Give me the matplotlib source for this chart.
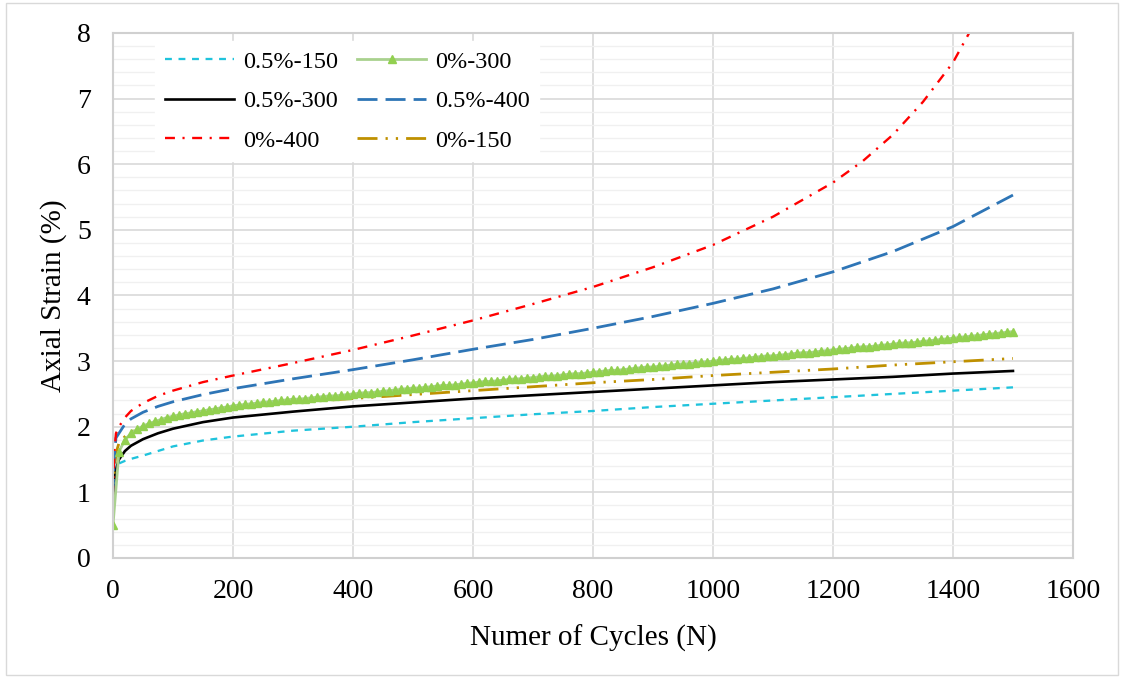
import matplotlib
matplotlib.use("Agg")
import matplotlib.pyplot as plt
from matplotlib.patches import Rectangle
from matplotlib.ticker import MultipleLocator

plt.rcParams['font.family'] = ['Liberation Serif', 'DejaVu Serif']

# cycles at which the line series were read
n_lines = [0, 2, 5, 10, 20, 30, 50, 75, 100, 150, 200, 300, 400, 500, 600,
           700, 800, 900, 1000, 1100, 1200, 1300, 1400, 1500]

s_05_150 = [1.05, 1.30, 1.37, 1.44, 1.48, 1.51, 1.56, 1.63, 1.70, 1.79, 1.85, 1.94, 2.00, 2.07,
            2.13, 2.19, 2.24, 2.30, 2.35, 2.40, 2.45, 2.50, 2.55, 2.60]
s_05_300 = [0.85, 1.15, 1.35, 1.50, 1.63, 1.71, 1.81, 1.90, 1.97, 2.07, 2.14, 2.23, 2.31, 2.37,
            2.43, 2.48, 2.53, 2.58, 2.63, 2.68, 2.72, 2.76, 2.81, 2.85]
s_05_400 = [0.90, 1.50, 1.83, 1.90, 2.04, 2.12, 2.22, 2.31, 2.38, 2.49, 2.58, 2.73, 2.87, 3.02,
            3.18, 3.33, 3.50, 3.68, 3.88, 4.10, 4.36, 4.67, 5.05, 5.53]
s_0_150 = [0.70, 1.30, 1.60, 1.75, 1.85, 1.92, 2.00, 2.08, 2.14, 2.24, 2.31, 2.37, 2.43, 2.49,
           2.55, 2.61, 2.67, 2.72, 2.78, 2.83, 2.88, 2.94, 2.99, 3.04]

n_red = [0, 2, 5, 10, 20, 30, 50, 75, 100, 150, 200, 300, 400, 500, 600, 700, 800,
         900, 1000, 1100, 1200, 1250, 1300, 1350, 1400, 1430]
s_0_400 = [0.95, 1.60, 1.90, 2.00, 2.14, 2.24, 2.36, 2.47, 2.55, 2.68, 2.78, 2.97, 3.17, 3.39,
           3.62, 3.87, 4.13, 4.43, 4.77, 5.20, 5.72, 6.05, 6.45, 6.95, 7.55, 8.05]

# 0%-300 was logged every 10 cycles (one triangle per point)
n_green = list(range(0, 1501, 10))
s_0_300 = [0.50, 1.62, 1.80, 1.90, 1.96, 2.01, 2.05, 2.08, 2.11, 2.14, 2.16,
           2.18, 2.20, 2.21, 2.23, 2.24, 2.26, 2.27, 2.29, 2.30, 2.32,
           2.33, 2.34, 2.35, 2.36, 2.37, 2.38, 2.39, 2.40, 2.41, 2.42,
           2.42, 2.43, 2.44, 2.45, 2.46, 2.47, 2.47, 2.48, 2.49, 2.50,
           2.51, 2.52, 2.52, 2.53, 2.54, 2.55, 2.56, 2.57, 2.58, 2.59,
           2.59, 2.60, 2.61, 2.62, 2.63, 2.63, 2.64, 2.65, 2.66, 2.67,
           2.68, 2.69, 2.69, 2.70, 2.71, 2.72, 2.73, 2.73, 2.74, 2.75,
           2.76, 2.77, 2.77, 2.78, 2.79, 2.80, 2.81, 2.81, 2.82, 2.83,
           2.84, 2.85, 2.86, 2.86, 2.87, 2.88, 2.89, 2.90, 2.91, 2.91,
           2.92, 2.93, 2.94, 2.95, 2.96, 2.96, 2.97, 2.98, 2.99, 3.00,
           3.01, 3.02, 3.03, 3.03, 3.04, 3.05, 3.06, 3.07, 3.08, 3.08,
           3.09, 3.10, 3.11, 3.12, 3.13, 3.13, 3.14, 3.15, 3.16, 3.17,
           3.18, 3.19, 3.20, 3.21, 3.22, 3.22, 3.23, 3.24, 3.25, 3.26,
           3.27, 3.28, 3.28, 3.29, 3.30, 3.31, 3.32, 3.33, 3.34, 3.35,
           3.36, 3.37, 3.38, 3.39, 3.40, 3.41, 3.42, 3.43, 3.44, 3.45]

fig = plt.figure(figsize=(11.24, 6.77), dpi=100)
ax = fig.add_axes([0.1005, 0.1758, 0.8541, 0.7755])

# chart border
fig.patches.append(Rectangle((0.005, 0.003), 0.99, 0.993, transform=fig.transFigure,
                             fill=False, edgecolor='#d9d9d9', linewidth=1))

l1, = ax.plot(n_lines, s_05_150, color='#1fc3dc', lw=1.65, dashes=(3.0, 2.9), label='0.5%-150')
l3, = ax.plot(n_lines, s_05_300, color='black', lw=1.9, label='0.5%-300')
l6, = ax.plot(n_lines, s_0_150, color='#bf9000', lw=2, dashes=(7.2, 2.9, 0.8, 2.9, 0.8, 2.9),
              label='0%-150')
l4, = ax.plot(n_lines, s_05_400, color='#2e75b6', lw=2, dashes=(7.2, 2.9), label='0.5%-400')
l5, = ax.plot(n_red, s_0_400, color='#ff0000', lw=1.7, dashes=(4.2, 3.2, 0.9, 3.2), label='0%-400')
l2, = ax.plot(n_green, s_0_300, color='#a9d18e', lw=2, marker='^', markersize=5.5,
              markerfacecolor='#92d050', markeredgecolor='#92d050', label='0%-300')

ax.set_xlim(0, 1600)
ax.set_ylim(0, 8)
ax.xaxis.set_major_locator(MultipleLocator(200))
ax.yaxis.set_major_locator(MultipleLocator(1))
ax.yaxis.set_minor_locator(MultipleLocator(0.2))
ax.grid(which='major', axis='both', color='#d9d9d9', lw=1.2)
ax.grid(which='minor', axis='y', color='#f0f0f0', lw=1)
ax.set_axisbelow(True)
ax.tick_params(which='both', length=0, labelsize=20)
ax.tick_params(axis='x', pad=15)
ax.tick_params(axis='y', pad=16)
for sp in ax.spines.values():
    sp.set_color('#d0d0d0')
    sp.set_linewidth(1.5)

ax.set_xlabel('Numer of Cycles (N)', fontsize=21, labelpad=15)
ax.set_ylabel('Axial Strain (%)', fontsize=21, labelpad=7)

leg = ax.legend([l1, l3, l5, l2, l4, l6],
                ['0.5%-150', '0.5%-300', '0%-400', '0%-300', '0.5%-400', '0%-150'],
                ncol=2, loc='upper left', bbox_to_anchor=(0.044, 0.985), borderaxespad=0,
                fontsize=17.5, frameon=True, framealpha=1, edgecolor='white', fancybox=False,
                handlelength=2.85, columnspacing=0.8, handletextpad=0.35, labelspacing=0.72)

fig.savefig('out.png', dpi=100)
